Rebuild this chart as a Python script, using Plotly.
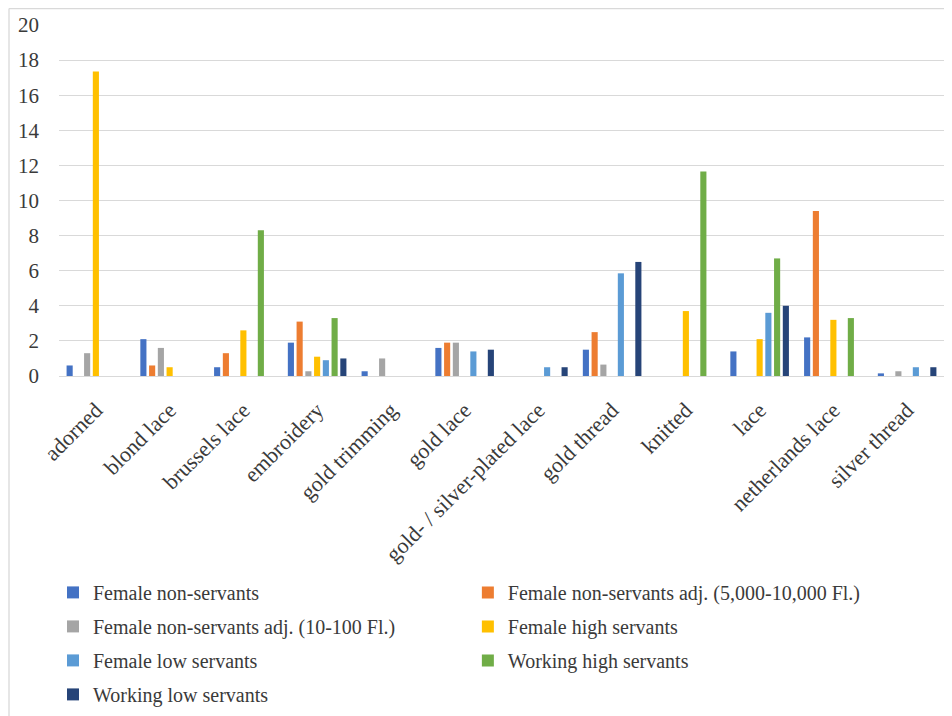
import plotly.graph_objects as go

categories = ["adorned", "blond lace", "brussels lace", "embroidery", "gold trimming",
              "gold lace", "gold- / silver-plated lace", "gold thread", "knitted",
              "lace", "netherlands lace", "silver thread"]

female_non_servants = [0.6, 2.1, 0.5, 1.9, 0.27, 1.6, 0, 1.5, 0, 1.4, 2.2, 0.15]
female_non_servants_adj_5000 = [0, 0.6, 1.3, 3.1, 0, 1.9, 0, 2.5, 0, 0, 9.4, 0]
female_non_servants_adj_10 = [1.3, 1.6, 0, 0.27, 1.0, 1.9, 0, 0.65, 0, 0, 0, 0.27]
female_high_servants = [17.35, 0.5, 2.6, 1.1, 0, 0, 0, 0, 3.7, 2.1, 3.2, 0]
female_low_servants = [0, 0, 0, 0.9, 0, 1.4, 0.5, 5.85, 0, 3.6, 0, 0.5]
working_high_servants = [0, 0, 8.3, 3.3, 0, 0, 0, 0, 11.65, 6.7, 3.3, 0]
working_low_servants = [0, 0, 0, 1.0, 0, 1.5, 0.5, 6.5, 0, 4.0, 0, 0.5]

series_names = ["Female non-servants", "Female non-servants adj. (5,000-10,000 Fl.)",
                "Female non-servants adj. (10-100 Fl.)", "Female high servants",
                "Female low servants", "Working high servants", "Working low servants"]
series_values = [female_non_servants, female_non_servants_adj_5000, female_non_servants_adj_10,
                 female_high_servants, female_low_servants, working_high_servants,
                 working_low_servants]
colors = ["#4472C4", "#ED7D31", "#A5A5A5", "#FFC000", "#5B9BD5", "#70AD47", "#264478"]

y_ticks = [0, 2, 4, 6, 8, 10, 12, 14, 16, 18, 20]

FONT = "Liberation Serif"
TXT = "#3a3a3a"

fig = go.Figure()
for i, (name, vals, col) in enumerate(zip(series_names, series_values, colors)):
    fig.add_trace(go.Bar(name=name, x=categories, y=vals, marker_color=col,
                         marker_line_width=0, legendgroup=f"g{i}",
                         legend="legend" if i % 2 == 0 else "legend2"))

legend_common = dict(orientation="v", xanchor="left", yanchor="top",
                     font=dict(family=FONT, size=20, color=TXT),
                     bgcolor="rgba(0,0,0,0)", itemwidth=30, tracegroupgap=5)

fig.update_layout(
    width=952, height=740,
    margin=dict(l=51, r=16, t=17, b=372, autoexpand=False),
    paper_bgcolor="white", plot_bgcolor="white",
    barmode="group", bargap=0.17, bargroupgap=0.3,
    font=dict(family=FONT, size=20, color=TXT),
    showlegend=True,
    legend=dict(x=-0.0068, y=-0.561, **legend_common),
    legend2=dict(x=0.462, y=-0.561, **legend_common),
)
fig.update_xaxes(tickangle=-45, showgrid=False, showline=False, zeroline=False,
                 ticks="", tickfont=dict(family=FONT, size=22, color=TXT),
                 ticklabelstandoff=16, automargin=False)
fig.update_yaxes(range=[0, 20], tickvals=y_ticks, showgrid=True, gridcolor="#d9d9d9",
                 gridwidth=1.3, zeroline=True, zerolinecolor="#d9d9d9", zerolinewidth=1.3,
                 showline=False, ticks="", ticklabelstandoff=19, automargin=False,
                 tickfont=dict(family=FONT, size=21, color=TXT))

# outer chart frame (left and top edges visible)
fig.add_shape(type="line", xref="paper", yref="paper", x0=-0.0565, x1=-0.0565, y0=1.047, y1=-1.2,
              line=dict(color="#d9d9d9", width=1.3))
fig.add_shape(type="line", xref="paper", yref="paper", x0=-0.0565, x1=1.05, y0=1.047, y1=1.047,
              line=dict(color="#d9d9d9", width=1.3))

fig.write_html("out.html")
